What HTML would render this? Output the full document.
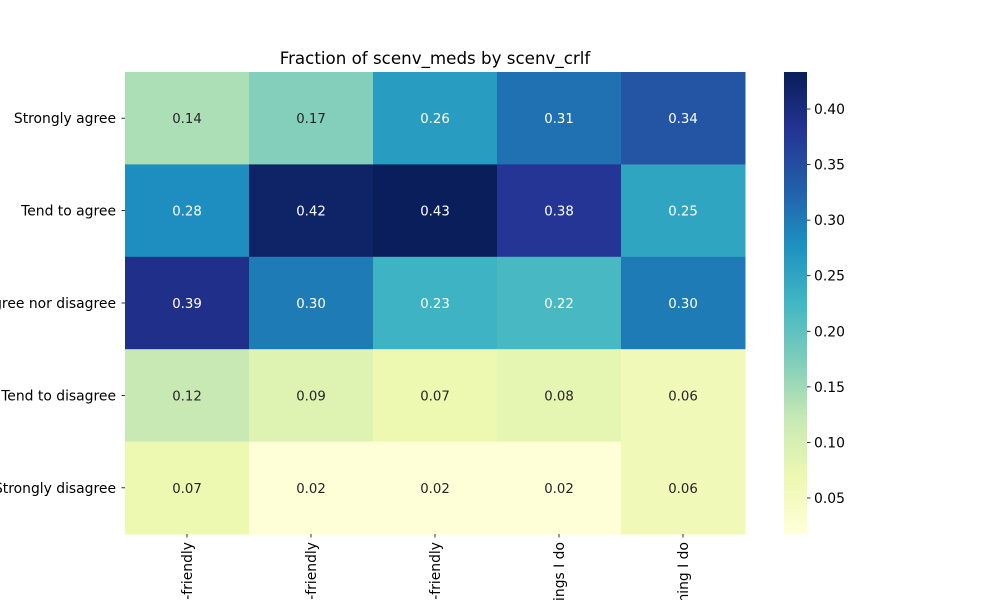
<!DOCTYPE html>
<html><head><meta charset="utf-8"><style>
html,body{margin:0;padding:0;background:#fff;width:1000px;height:600px;overflow:hidden;}
svg{display:block;}
svg text{font-family:"DejaVu Sans","Liberation Sans",sans-serif;}
</style></head><body>
<svg id="chart" width="1000" height="600" viewBox="0 0 1000 600" xmlns="http://www.w3.org/2000/svg">
<text x="435" y="64" text-anchor="middle" font-size="16.7" fill="#000">Fraction of scenv_meds by scenv_crlf</text>
<g id="cells"></g>
<g id="yaxis"></g>
<g id="xaxis"></g>
<defs><linearGradient id="cbgrad" x1="0" y1="1" x2="0" y2="0"></linearGradient></defs>
<rect x="784" y="72" width="23" height="462" fill="url(#cbgrad)"/>
<g id="cbaxis"></g>
</svg>
<script>
const rowLabels = ["Strongly agree","Tend to agree","Neither agree nor disagree","Tend to disagree","Strongly disagree"];
const colLabels = ["Very environmentally-friendly","Fairly environmentally-friendly","Not very environmentally-friendly","I do some things I do","I do not do anything I do"];
const values = [
 [0.14,0.17,0.26,0.31,0.34],
 [0.28,0.42,0.43,0.38,0.25],
 [0.39,0.30,0.23,0.22,0.30],
 [0.12,0.09,0.07,0.08,0.06],
 [0.07,0.02,0.02,0.02,0.06]
];
const cbTicks = [0.05,0.10,0.15,0.20,0.25,0.30,0.35,0.40];
const vmin = 0.0176, vmax = 0.4333;

const stops = ["#ffffd9","#edf8b1","#c7e9b4","#7fcdbb","#41b6c4","#1d91c0","#225ea8","#253494","#081d58"];
function hex(h){return [1,3,5].map(i=>parseInt(h.substr(i,2),16));}
function cmap(v){
  let t=Math.max(0,Math.min(1,(v-vmin)/(vmax-vmin)))*(stops.length-1);
  let i=Math.min(Math.floor(t),stops.length-2), f=t-i;
  const a=hex(stops[i]), b=hex(stops[i+1]);
  return a.map((c,k)=>Math.round(c+(b[k]-c)*f));
}
const X0=125,X1=745,Y0=72,Y1=534;
const cw=(X1-X0)/colLabels.length, rh=(Y1-Y0)/rowLabels.length;
const xPos=j=>X0+j*cw, yPos=i=>Y0+i*rh;
const yCb=v=>Y1-(v-vmin)/(vmax-vmin)*(Y1-Y0);
const NS="http://www.w3.org/2000/svg";
function mk(tag,attrs,parent,txt){const e=document.createElementNS(NS,tag);for(const k in attrs)e.setAttribute(k,attrs[k]);if(txt!==undefined)e.textContent=txt;parent.appendChild(e);return e;}
const cells=document.getElementById('cells');
values.forEach((row,i)=>row.forEach((v,j)=>{
  const c=cmap(v);
  const r=mk('rect',{x:xPos(j),y:yPos(i),width:cw+0.5,height:rh+0.5,fill:`rgb(${c})`},cells);
  
  
  const lum=(0.2126*c[0]+0.7152*c[1]+0.0722*c[2])/255;
  const t=mk('text',{x:xPos(j)+cw/2,y:yPos(i)+rh/2+5,'text-anchor':'middle','font-size':13.3,fill:lum>0.7?'#262626':'#fff'},cells,v.toFixed(2));
  
  
}));
const ya=document.getElementById('yaxis');
rowLabels.forEach((l,i)=>{
  const y=yPos(i)+rh/2;
  mk('line',{x1:X0-3.5,x2:X0,y1:y,y2:y,stroke:'#000','stroke-width':0.8},ya);
  const t=mk('text',{x:X0-9,y:y+5,'text-anchor':'end','font-size':13.9,fill:'#000'},ya,l);
  
  
});
const xa=document.getElementById('xaxis');
colLabels.forEach((l,j)=>{
  const x=xPos(j)+cw/2;
  mk('line',{x1:x,x2:x,y1:Y1,y2:Y1+3.5,stroke:'#000','stroke-width':0.8},xa);
  const t=mk('text',{x:0,y:0,'text-anchor':'end','font-size':13.9,fill:'#000',transform:`translate(${x+5},${Y1+8}) rotate(-90)`},xa,l);
  
  
});
const g=document.getElementById('cbgrad');
for(let k=0;k<=40;k++){const v=vmin+(vmax-vmin)*k/40;mk('stop',{offset:k/40,'stop-color':`rgb(${cmap(v)})`},g);}
const cba=document.getElementById('cbaxis');
cbTicks.forEach(v=>{
  const y=yCb(v);
  mk('line',{x1:807,x2:810.5,y1:y,y2:y,stroke:'#000','stroke-width':0.8},cba);
  const t=mk('text',{x:814,y:y+5,'font-size':13.9,fill:'#000'},cba,v.toFixed(2));
  
  
});
</script>
</body></html>
